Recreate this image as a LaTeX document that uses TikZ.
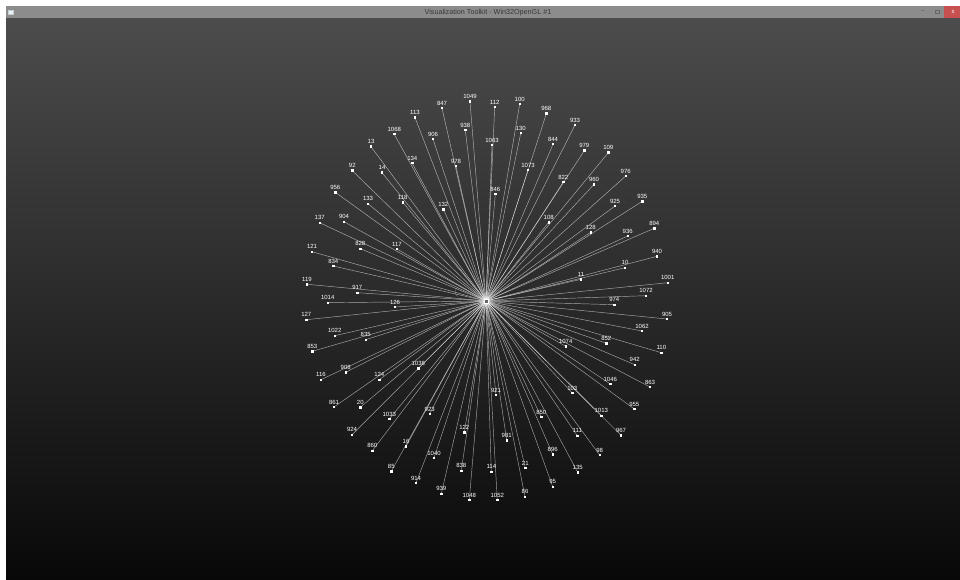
\documentclass[tikz,border=0pt]{standalone}
\usepackage{fontspec}
\setmainfont{Liberation Sans}
\definecolor{bgtop}{RGB}{76,76,76}
\definecolor{bgbot}{RGB}{8,8,8}
\definecolor{titlegray}{RGB}{140,140,140}
\definecolor{titletext}{RGB}{55,55,55}
\definecolor{closered}{RGB}{199,80,80}
\begin{document}
\begin{tikzpicture}[x=1pt,y=-1pt,
  nodebox/.style={fill=white,draw=none,minimum size=2.4pt,inner sep=0pt},
  lbl/.style={text=white,font=\fontsize{6}{6}\selectfont,inner sep=0pt},
  edgeline/.style={draw=white,draw opacity=0.6,line width=0.45pt}]
\useasboundingbox (0,0) rectangle (960,580);
\fill[white] (0,0) rectangle (960,580);
\shade[top color=bgtop,bottom color=bgbot] (6,18) rectangle (960,580);
% title bar
\fill[titlegray] (6,6) rectangle (960,18);
\node[font=\fontsize{7.2}{8}\selectfont,text=titletext,inner sep=0pt] (title) at (488,12.3) {Visualization Toolkit - Win32OpenGL \#1};
\node[draw=white!80!black,fill=white!60!cyan!30,minimum width=5pt,minimum height=4.5pt,inner sep=0pt,line width=0.4pt] (icon) at (10.5,12) {};
\fill[closered] (944,6) rectangle (960,18);
\node[text=white,font=\fontsize{6}{6}\selectfont,inner sep=0pt] (closex) at (953,12) {x};
\node[text=black!70,font=\fontsize{6}{6}\selectfont,inner sep=0pt] (minbtn) at (923,12) {--};
\node[draw=black!60,minimum size=3.5pt,inner sep=0pt,line width=0.5pt] (maxbtn) at (937,12) {};
% graph
\coordinate (c) at (486,301);
\def\nodelist{415/117.7/113, 394.3/134.3/1068, 371/146.7/13, 412.3/163.3/134, 352.3/170.7/92, 382/172.7/14,
335.3/192.3/956, 368/203.7/133, 402.7/202.3/118, 319.7/222.7/137, 344/221.7/904,
442/108.3/847, 470/101.7/1049, 494.7/107/112, 519.7/104/100, 546.3/113.7/968, 465.3/130.3/938, 520.7/133.3/130,
433/139/906, 492/145.3/1063, 456/166.3/978, 528/170/1073, 495.3/194/846, 443.3/209.3/132, 548.7/222.3/108,
575/125/933, 553/144.3/844, 584.3/150.7/979, 608.3/152.7/109, 625.7/176/976, 563.3/182/822, 594/184.3/960,
615/206/925, 642.3/201.3/935, 590.7/232.3/128, 654.3/228.3/894, 627.7/236/936,
360.3/248.7/828, 397/249/117, 312/251.7/121, 333.3/266/834, 307/284.3/119, 357.3/292.7/917, 327.7/302.7/1014,
395/307/126, 306.3/319.7/127, 334.7/335.7/1022, 365.7/339.7/835, 312.3/351.3/853, 345.7/372.3/908, 418.3/368.3/1038,
657/256.3/940, 625/267.7/10, 581/279.3/11, 667.7/282.7/1001, 646/295.7/1072, 614.3/304.7/974, 667/319/905,
642/331/1062, 606.3/343.3/852, 565.7/346.3/1074, 661.3/352.7/110, 634.7/364.7/942,
321/379.7/116, 379.3/379.7/124, 334/407/861, 360.3/407.3/20, 389.3/419/1033, 352/434.7/924, 372.3/450.7/860,
406/446.3/16, 391.3/471.3/85, 416/483/914,
496/395/921, 429.7/414/923, 541.3/417/850, 464.3/432.3/122, 506.7/440.3/981, 434/458/1040, 461.3/470.7/838,
491.3/471.7/114, 525.3/468/21, 441.3/493.7/939, 469.3/500/1048, 497.3/500/1052, 525/496.7/86,
610.3/384/1046, 650/387/863, 572.3/393/103, 634.3/409/955, 601.3/415.7/1013, 621/435.3/967, 577.3/435.7/111,
552.7/454.3/896, 599.7/455/98, 577.7/472.3/135, 552.7/486.7/95}
\foreach \px/\py/\t in \nodelist {
  \coordinate (p\t) at (\px,\py);
  \draw[edgeline] (c) -- (p\t);
}
\foreach \px/\py/\t in \nodelist {
  \node[nodebox] (n\t) at (p\t) {};
  \node[lbl] (l\t) at (\px,\py-5) {\t};
}
\draw[white,draw opacity=0.35,line width=0.4pt] (457.5,296.5) arc[start angle=120,end angle=240,radius=5];
\node[draw=white,fill=black!60,minimum size=3.6pt,inner sep=0pt,line width=0.6pt] (center) at (c) {};
\end{tikzpicture}
\end{document}
